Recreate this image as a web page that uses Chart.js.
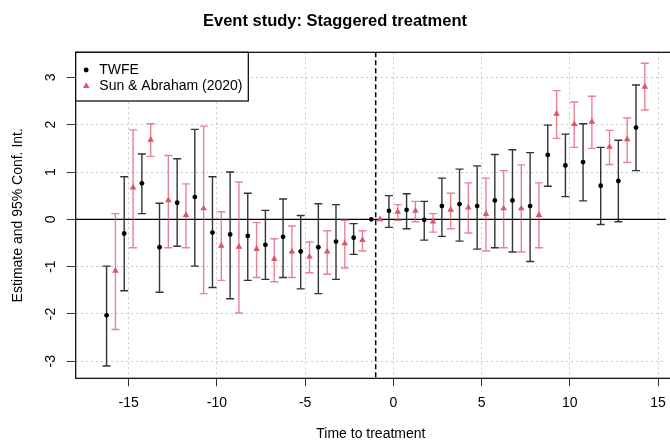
<!DOCTYPE html>
<html>
<head>
<meta charset="utf-8">
<script src="https://cdn.jsdelivr.net/npm/chart.js@4.4.1/dist/chart.umd.min.js"></script>
<style>
html,body{margin:0;padding:0;background:#fff;}
canvas{display:block;}
</style>
</head>
<body>
<canvas id="c" width="670" height="443"></canvas>
<script>
// relative time to treatment
const periods = [-16,-15,-14,-13,-12,-11,-10,-9,-8,-7,-6,-5,-4,-3,-2,-1,0,1,2,3,4,5,6,7,8,9,10,11,12,13,14];

const twfeEst = [-2.03,-0.30,0.76,-0.59,0.35,0.47,-0.28,-0.32,-0.35,-0.54,-0.37,-0.68,-0.59,-0.47,-0.39,0,0.18,0.20,-0.01,0.28,0.32,0.28,0.40,0.40,0.28,1.36,1.14,1.21,0.71,0.81,1.94];
const twfeLo  = [-3.10,-1.51,0.12,-1.54,-0.57,-0.99,-1.44,-1.68,-1.29,-1.27,-1.23,-1.47,-1.57,-1.27,-0.74,null,-0.17,-0.20,-0.44,-0.36,-0.46,-0.63,-0.60,-0.69,-0.89,0.70,0.48,0.39,-0.11,-0.05,1.03];
const twfeHi  = [-0.99,0.90,1.38,0.34,1.28,1.90,0.90,1.00,0.55,0.19,0.43,0.08,0.33,0.31,-0.09,null,0.50,0.54,0.38,0.87,1.06,1.13,1.37,1.47,1.41,1.99,1.80,2.02,1.52,1.67,2.84];

const saEst = [-1.09,0.67,1.68,0.40,0.09,0.23,-0.56,-0.58,-0.63,-0.84,-0.68,-0.79,-0.68,-0.51,-0.44,0,0.16,0.18,-0.05,0.20,0.25,0.11,0.23,0.23,0.09,2.23,2.01,2.06,1.53,1.69,2.80];
const saLo  = [-2.33,-0.60,1.33,-0.60,-0.60,-1.57,-1.29,-1.98,-1.23,-1.32,-1.23,-1.13,-1.16,-1.03,-0.67,null,-0.02,-0.05,-0.27,-0.20,-0.29,-0.67,-0.60,-0.69,-0.60,1.71,1.52,1.50,1.16,1.20,2.31];
const saHi  = [0.12,1.89,2.02,1.35,0.75,1.97,0.16,0.79,-0.07,-0.41,-0.14,-0.48,-0.24,-0.02,-0.24,null,0.31,0.38,0.12,0.55,0.77,0.87,1.03,1.15,0.77,2.72,2.48,2.60,1.88,2.14,3.30];

const xTicks = [-15,-10,-5,0,5,10,15];
const yTicks = [-3,-2,-1,0,1,2,3];
const refPeriod = -1;
const seriesNames = ['TWFE', 'Sun & Abraham (2020)'];

const FONT = "'Liberation Sans', Arial, sans-serif";
const RED = '#DF536B';
const shift = 0.25;

function pts(est, off){
  return periods.map((p,i)=>({x:p+off, y:est[i]}));
}

const series = [
  {est:twfeEst, lo:twfeLo, hi:twfeHi, off:-shift, bar:'rgba(0,0,0,0.8)'},
  {est:saEst, lo:saLo, hi:saHi, off:shift, bar:'rgba(223,83,107,0.72)'}
];

const extras = {
  id:'extras',
  beforeDatasetsDraw(chart){
    const {ctx, chartArea:a, scales:{x,y}} = chart;
    ctx.save();
    // zero line
    ctx.strokeStyle = '#000'; ctx.lineWidth = 1.3; ctx.setLineDash([]);
    const y0 = y.getPixelForValue(0);
    ctx.beginPath(); ctx.moveTo(a.left, y0); ctx.lineTo(a.right, y0); ctx.stroke();
    // reference period
    const xr = x.getPixelForValue(refPeriod);
    ctx.setLineDash([5,3]); ctx.lineWidth = 1.5;
    ctx.beginPath(); ctx.moveTo(xr, a.top); ctx.lineTo(xr, a.bottom); ctx.stroke();
    ctx.setLineDash([]);
    // confidence intervals
    ctx.lineWidth = 1.4;
    series.forEach(s=>{
      ctx.strokeStyle = s.bar;
      periods.forEach((p,i)=>{
        if (s.lo[i] === null) return;
        const px = x.getPixelForValue(p + s.off);
        const yl = y.getPixelForValue(s.lo[i]);
        const yh = y.getPixelForValue(s.hi[i]);
        ctx.beginPath();
        ctx.moveTo(px, yl); ctx.lineTo(px, yh);
        ctx.moveTo(px-4, yl); ctx.lineTo(px+4, yl);
        ctx.moveTo(px-4, yh); ctx.lineTo(px+4, yh);
        ctx.stroke();
      });
    });
    ctx.restore();
  },
  afterDraw(chart){
    const {ctx, chartArea:a, scales:{y}} = chart;
    ctx.save();
    // box (right side falls outside the canvas)
    ctx.strokeStyle = '#000'; ctx.lineWidth = 1.2;
    ctx.strokeRect(a.left, a.top, a.right - a.left + 10, a.bottom - a.top);
    // rotated y tick labels
    ctx.fillStyle = '#000';
    ctx.font = '14px ' + FONT;
    ctx.textAlign = 'center'; ctx.textBaseline = 'middle';
    y.ticks.forEach(t=>{
      const py = y.getPixelForValue(t.value);
      ctx.save();
      ctx.translate(a.left - 24.5, py);
      ctx.rotate(-Math.PI/2);
      ctx.fillText(String(t.value), 0, 0);
      ctx.restore();
    });
    // legend
    const lx = a.left, ly = a.top, lw = 172.6, lh = 48.7;
    ctx.fillStyle = '#fff';
    ctx.fillRect(lx, ly, lw, lh);
    ctx.strokeRect(lx, ly, lw, lh);
    ctx.fillStyle = '#000';
    ctx.beginPath(); ctx.arc(lx+10.5, ly+17.7, 2.4, 0, Math.PI*2); ctx.fill();
    ctx.fillStyle = RED;
    const tx = lx+10.5, ty = ly+33.7, r = 3.8;
    ctx.beginPath();
    ctx.moveTo(tx, ty - r);
    ctx.lineTo(tx + r*0.866, ty + r*0.5);
    ctx.lineTo(tx - r*0.866, ty + r*0.5);
    ctx.closePath(); ctx.fill();
    ctx.fillStyle = '#000';
    ctx.textAlign = 'left';
    ctx.fillText(seriesNames[0], lx+23.6, ly+17.7);
    ctx.fillText(seriesNames[1], lx+23.6, ly+33.7);
    ctx.restore();
  }
};

new Chart(document.getElementById('c'), {
  type:'scatter',
  data:{
    datasets:[
      {label:seriesNames[0], data:pts(twfeEst, -shift), pointStyle:'circle', pointRadius:2.4,
       backgroundColor:'#000', borderColor:'#000', borderWidth:0},
      {label:seriesNames[1], data:pts(saEst, shift), pointStyle:'triangle', pointRadius:3.8,
       backgroundColor:RED, borderColor:RED, borderWidth:0}
    ]
  },
  options:{
    responsive:false,
    animation:false,
    layout:{padding:0},
    plugins:{
      legend:{display:false},
      tooltip:{enabled:false},
      title:{display:true, text:'Event study: Staggered treatment', color:'#000',
        font:{family:FONT, size:16.5, weight:'bold'}, padding:{top:11.5, bottom:21}}
    },
    scales:{
      x:{type:'linear', min:-18, max:15.45,
        afterBuildTicks:s=>{ s.ticks = xTicks.map(v=>({value:v})); },
        afterFit:s=>{ s.height = 64.7; s.paddingLeft = 0; s.paddingRight = 0; },
        ticks:{color:'#000', font:{family:FONT, size:14}, padding:8, maxRotation:0},
        grid:{color:'#c8c8c8', lineWidth:1, tickLength:8, tickColor:'#333', tickWidth:1, tickBorderDash:[]},
        border:{display:false, dash:[2,3]},
        title:{display:true, text:'Time to treatment', color:'#000', font:{family:FONT, size:14}, padding:0}
      },
      y:{type:'linear', min:-3.36, max:3.53,
        afterBuildTicks:s=>{ s.ticks = yTicks.map(v=>({value:v})); },
        afterFit:s=>{ s.width = 75.7; s.paddingTop = 0; s.paddingBottom = 0; },
        ticks:{display:false},
        grid:{color:'#c8c8c8', lineWidth:1, tickLength:9, tickColor:'#333', tickWidth:1, tickBorderDash:[]},
        border:{display:false, dash:[2,3]},
        title:{display:true, text:'Estimate and 95% Conf. Int.', color:'#000', font:{family:FONT, size:14}, padding:{top:10, bottom:0}}
      }
    }
  },
  plugins:[extras]
});
</script>
</body>
</html>
